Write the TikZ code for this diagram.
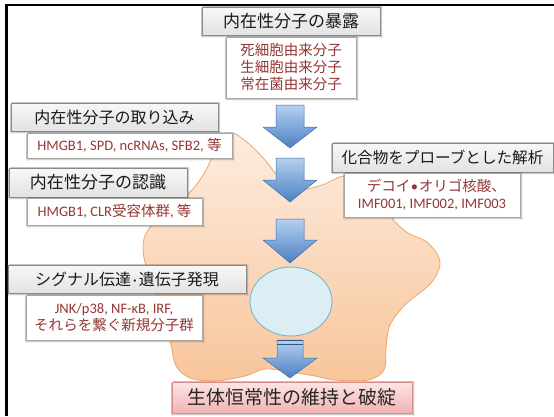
\documentclass[tikz,border=0pt]{standalone}
\usepackage{fontspec}
\setmainfont{Carlito}
\newfontfamily\jpf{Noto Sans CJK JP}
\newfontfamily\latf{Carlito}
\usetikzlibrary{shapes.geometric,shadows.blur}

\definecolor{celledge}{HTML}{F2A566}
\definecolor{celltop}{HTML}{FDECE0}
\definecolor{cellbot}{HTML}{F8C59A}
\definecolor{nucfill}{HTML}{DCEDF4}
\definecolor{nucedge}{HTML}{74B9C9}
\definecolor{arrtop}{HTML}{B5D0F0}
\definecolor{arrbot}{HTML}{4B80C1}
\definecolor{arredge}{HTML}{3C6EA8}
\definecolor{graytop}{HTML}{F8F8F8}
\definecolor{graybot}{HTML}{E2E2E2}
\definecolor{grayedge}{HTML}{8A8A8A}
\definecolor{itemedge}{HTML}{A8A8A0}
\definecolor{itemred}{HTML}{953734}
\definecolor{pinktop}{HTML}{FDE4E4}
\definecolor{pinkbot}{HTML}{F2B3B3}
\definecolor{pinkedge}{HTML}{D98C8C}

% block arrow pointing down: centre x, top y, neck y, tip y, shaft half width
\newcommand\downblock[5]{%
  \path[arrowbody] (#1-#5,#2) -- (#1+#5,#2) -- (#1+#5,#3) -- (#1+27,#3)
    -- (#1,#4) -- (#1-27,#3) -- (#1-#5,#3) -- cycle;}
% narrow middle dot between CJK words
\newcommand\middot{{\latf\kern0.12em·\kern0.12em}}

\begin{document}
\begin{tikzpicture}[x=1bp,y=-1bp,
  softshadow/.style={blur shadow={shadow xshift=1.3bp,shadow yshift=-1.3bp,
      shadow blur radius=1.6bp,shadow opacity=35}},
  titlebox/.style={draw=grayedge,line width=0.6bp,top color=graytop,
      bottom color=graybot,inner sep=0pt,text=black!90,softshadow},
  itembox/.style={draw=itemedge,line width=0.6bp,fill=white,inner sep=0pt,
      text=itemred,align=center,softshadow,
      font=\jpf\fontsize{14.5bp}{17bp}\selectfont},
  goalbox/.style={draw=pinkedge,line width=0.6bp,top color=pinktop,
      bottom color=pinkbot,inner sep=0pt,text=black!85,softshadow,
      font=\jpf\fontsize{19bp}{22bp}\selectfont},
  arrowbody/.style={draw=arredge,line width=0.5bp,top color=arrtop,
      bottom color=arrbot},
  frameline/.style={draw=black,line width=2.4bp}]

\useasboundingbox (0,0) rectangle (554,416);
\fill[white] (0,0) rectangle (554,416);

% outer frame (left and top edges)
\draw[frameline] (6.5,416) -- (6.5,5.2) -- (554,5.2);

% cell body
\path[draw=celledge,line width=0.8bp,top color=celltop,bottom color=cellbot]
  plot[smooth cycle,tension=0.55] coordinates {
  (230,133) (248,143) (265,160) (280,178) (300,189) (322,185) (345,176)
  (368,184) (385,210) (405,231) (428,243) (440,262) (431,283) (406,304)
  (390,325) (386,348) (384,370) (368,380) (335,380) (315,376) (290,372)
  (265,369) (245,376) (215,381) (190,378) (176,366) (171,345) (162,310)
  (150,280) (143,250) (148,230) (170,210) (192,190) (205,172) (215,152)};

% nucleus
\node[ellipse,draw=nucedge,line width=0.9bp,fill=nucfill,
  minimum width=82bp,minimum height=69bp,inner sep=0pt] (nucleus) at (291,301.5) {};

% flow arrows
\downblock{290}{105}{127}{148}{14}
\downblock{290}{158}{180}{202}{14}
\downblock{290}{219}{240}{263}{14}
\downblock{290}{340}{358}{378}{13}
\draw[arredge!80!black,line width=0.9bp] (277,340.8) -- (303,340.8)
  (277,344) -- (303,344);

% exposure
\node[titlebox,minimum width=178bp,minimum height=28bp,
  font=\jpf\fontsize{17bp}{20bp}\selectfont] (expo) at (291,21) {内在性分子の暴露};
\node[itembox,minimum width=130bp,minimum height=61bp] (src) at (291,67.5)
  {死細胞由来分子\\生細胞由来分子\\常在菌由来分子};

% uptake
\node[titlebox,minimum width=207bp,minimum height=28bp,
  font=\jpf\fontsize{16bp}{19bp}\selectfont] (uptake) at (114.5,117) {内在性分子の取り込み};
\node[itembox,minimum width=205bp,minimum height=25bp] (upmol) at (129.5,145.5)
  {{\latf HMGB1, SPD, ncRNAs, SFB2, }等};

% recognition
\node[titlebox,minimum width=178bp,minimum height=29bp,
  font=\jpf\fontsize{17bp}{20bp}\selectfont] (recog) at (98,182.5) {内在性分子の認識};
\node[itembox,minimum width=175bp,minimum height=27bp] (recmol) at (114.5,211.5)
  {{\latf HMGB1, CLR}受容体群{\latf , }等};

% signalling
\node[titlebox,minimum width=238bp,minimum height=28bp,
  font=\jpf\fontsize{16bp}{19bp}\selectfont] (signal) at (127,279) {シグナル伝達\middot 遺伝子発現};
\node[itembox,minimum width=176bp,minimum height=45bp] (sigmol) at (114,317.5)
  {{\latf JNK/p38, NF-κB, IRF,}\\それらを繋ぐ新規分子群};

% probe analysis
\node[titlebox,minimum width=221bp,minimum height=29bp,
  font=\jpf\fontsize{15.6bp}{19bp}\selectfont] (probe) at (442.5,157.5) {化合物をプローブとした解析};
\node[itembox,minimum width=176bp,minimum height=44bp] (probemol) at (432,195)
  {\kern0.6em デコイ{\latf\kern0.05em•\kern0.05em}オリゴ核酸、\\{\latf IMF001, IMF002, IMF003}};

% outcome
\node[goalbox,minimum width=240bp,minimum height=31bp] (goal) at (292,397.5)
  {生体恒常性の維持と破綻};

\end{tikzpicture}
\end{document}
